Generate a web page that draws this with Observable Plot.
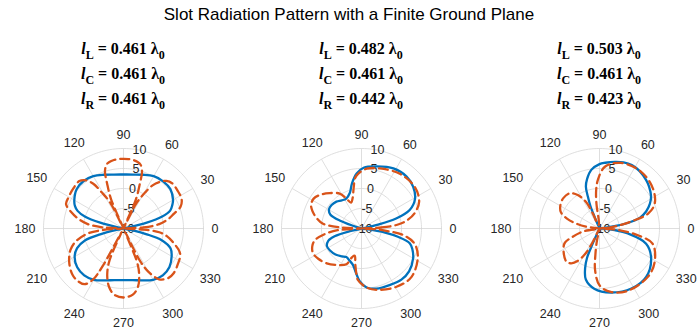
<!DOCTYPE html>
<html><head><meta charset="utf-8">
<script src="https://cdn.jsdelivr.net/npm/d3@7"></script>
<script src="https://cdn.jsdelivr.net/npm/@observablehq/plot@0.6"></script>
<style>
body{margin:0;background:#fff;}
#wrap{position:relative;width:698px;height:330px;overflow:hidden;background:#fff;}
#title{position:absolute;left:0;top:5px;width:698px;text-align:center;font:17px "Liberation Sans",Arial,sans-serif;line-height:20px;color:#000;}
.lab{position:absolute;top:37px;width:180px;text-align:center;font:bold 16px "Liberation Serif","Times New Roman",serif;line-height:24px;color:#000;white-space:nowrap;}
.lab .s{position:relative;top:5px;font-size:12px;}
.plot{position:absolute;top:120px;}
</style></head><body>
<div id="wrap"><div id="title"></div></div>
<script>
// ---------- chart data ----------
const chartTitle = "Slot Radiation Pattern with a Finite Ground Plane";
const lenL = ["0.461", "0.482", "0.503"];
const lenC = ["0.461", "0.461", "0.461"];
const lenR = ["0.461", "0.442", "0.423"];
const thetaTicks = [0, 30, 60, 90, 120, 150, 180, 210, 240, 270, 300, 330];
const rTicks = [-10, -5, 0, 5, 10];
const rLabelAngle = 80;

// panel 1 (solid = blue, dashed = orange), angle in degrees, value in dB
const p1SolidDeg = [0,12,14,17,21,26,30,40,50,60,70,80,90,100,110,120,130,140,150,155,159,163,166,168,180,192,194,197,203,210,220,230,240,250,260,270,280,290,300,310,320,330,337,343,346,348];
const p1SolidDb  = [-10,-9,-4,0,2.5,3.6,4.3,5.3,5.4,5.1,4.3,3.7,3.5,3.7,4.3,5.1,5.5,5.3,4.2,3.4,2.3,0,-4,-9,-10,-9,-4,0,2.6,4.1,5.1,5.3,4.8,3.8,3.1,2.9,3.1,3.8,4.8,5.3,5.0,3.9,2.8,0,-4,-9];
const p1DashDeg = [0,3,7,12,16,21,27,35,43,48,52,56,59,63,65,67,70,72,75,78,82,86,90,94,98,102,105,108,110,113,115,117,121,124,128,133,143,150,157,163,168,173,177,180,184,188,195,202,212,222,229,235,239,241,243,245,247,251,256,262,270,278,284,289,292,295,297,300,305,312,318,326,336,344,350,354,357];
const p1DashDb  = [-10,-5,-1,1.5,3,5.3,6.3,6.5,6.6,6,4.8,3,0.5,-3,-10,-2,2,5,6.5,7,7.3,7.4,7.4,7.4,7.3,7,6.5,5,2,-2,-10,-3,0.5,3.5,5.3,6.2,6,5.8,5.6,3.5,1.5,-1,-5,-10,-5,-1,2.3,4.3,6,7.2,7.4,7,5,1,-9,-4,-0.5,2.5,5,6.7,7.25,6.7,5,2,-1,-9,-1,2.5,5.5,6.7,6.8,6.3,5.5,3,1,-1,-5];

// panel 2
const p2SolidDeg = [0,10,13,16,21,29,39,49,62,76,88,95,102,108,117,125,133,142,150,156,160,164,180,193,196,200,207,215,225,235,242,250,257,263,268,275,284,297,308,318,330,338,343,347,350,353];
const p2SolidDb  = [-10,-9,-6,-1,2.9,5.3,6.6,7.2,7,6,5.2,3.8,1.5,-0.6,-1.6,-1.4,-0.8,-0.5,-0.6,-1.5,-4.5,-9,-10,-7,-3,-1.2,-0.3,-0.4,-0.8,-1.5,-1.9,-1.4,-0.6,1.2,3.2,4.8,5.5,5.8,6.2,6.0,4.9,3.7,2.6,-0.5,-4,-9];
const p2DashDeg = [0,3,6,10,16,25,38,55,73,85,93,97,101,106,112,117,122,132,140,148,155,160,167,173,177,180,184,189,194,200,207,215,225,237,247,252,256,260,263,266,275,284,301,316,333,344,351,354,357];
const p2DashDb  = [-10,-5,-1,1.5,3.8,5.9,6.9,6.7,5.7,5,3.8,2.8,0.3,-2,-3,-1.5,0.3,1.9,3.2,4.1,3.9,3.1,1.5,-0.3,-5,-10,-4,-0.5,2,3.1,3.6,3.2,2.3,0.9,-0.3,-2.5,-3,-1,1,2.9,4.8,5.8,7,7.4,5.8,3.8,0.6,-3,-6];

// panel 3
const p3SolidDeg = [0,6,9,11,15,20,26,32,40,46,55,63,70,77,85,90,98,104,108,110,112,113.5,180,245,246,247,250,255,265,280,298,314,330,342,350,354,357];
const p3SolidDb  = [-10,-9,-6.2,-2.8,0.5,2.4,4,5.2,6.2,6.8,7.5,7.8,7.6,7.1,6.5,6.1,4.8,2.8,1,-1.5,-4,-9,-10,-9,-5,-2,0.5,3.2,5.1,6.25,7,6.8,4.9,2.25,-2.8,-6.2,-9];
const p3DashDeg = [0,5,9,13,17,24,37,54,72,85,92,95,97,99,110,114,117,123,130,140,149,157,163,168,173,180,190,197,203,215,225,231,236,241,244,250,258,261,264,270,280,294,315,329,344,350,354,357];
const p3DashDb  = [-10,-8,-5,-1.4,2.7,5.1,6.7,7.6,7.25,5.5,2.1,-0.4,-3.7,-9,-9,-6,-2.5,0,1.5,1.8,1.4,0.5,-1.5,-4,-7,-10,-6,-3,-0.5,0.9,1.7,1.2,-0.2,-3,-7,-10,-7,-3.5,0.5,4.2,6.1,7.1,7.1,6.1,3.8,-0.25,-4,-7];

const panels = [
  {solidDeg: p1SolidDeg, solidDb: p1SolidDb, dashDeg: p1DashDeg, dashDb: p1DashDb},
  {solidDeg: p2SolidDeg, solidDb: p2SolidDb, dashDeg: p2DashDeg, dashDb: p2DashDb},
  {solidDeg: p3SolidDeg, solidDb: p3SolidDb, dashDeg: p3DashDeg, dashDb: p3DashDb}
];

// ---------- drawing ----------
const rMin = rTicks[0], rMax = rTicks[rTicks.length - 1];
const rad = a => a * Math.PI / 180;
const R = v => Math.max(0, v - rMin);
const px = (a, v) => R(v) * Math.cos(rad(a));
const py = (a, v) => R(v) * Math.sin(rad(a));
const gridColor = "#d6d6d6";
const textColor = "#262626";
const font = "'Liberation Sans', Arial, sans-serif";

function polarPlot(p) {
  const solid = p.solidDeg.map((a, i) => ({a, v: p.solidDb[i]}));
  const dash = p.dashDeg.map((a, i) => ({a, v: p.dashDb[i]}));
  const circles = rTicks.filter(t => t > rMin).flatMap(t => d3.range(0, 361, 2).map(a => ({t, a})));
  // label radius grows with text extent so labels sit just outside the outer ring
  const labR = a => (88 + Math.abs(Math.cos(rad(a))) * String(a).length * 3.5 + Math.abs(Math.sin(rad(a))) * 6) / 4;
  return Plot.plot({
    width: 232, height: 210, margin: 0,
    x: {domain: [-29, 29], axis: null},
    y: {domain: [-25.5, 27], axis: null},
    style: {background: "transparent", fontFamily: font, overflow: "visible"},
    marks: [
      Plot.line(circles, {x: d => px(d.a, d.t), y: d => py(d.a, d.t), z: "t", stroke: gridColor, strokeWidth: 0.8}),
      Plot.link(thetaTicks, {x1: () => 0, y1: () => 0, x2: a => px(a, rMax), y2: a => py(a, rMax), stroke: gridColor, strokeWidth: 0.8}),
      Plot.text(thetaTicks, {x: a => labR(a) * Math.cos(rad(a)), y: a => labR(a) * Math.sin(rad(a)), text: a => String(a), fontSize: 12.5, fill: textColor}),
      Plot.text(rTicks, {x: t => px(rLabelAngle, t) + 0.5, y: t => py(rLabelAngle, t), text: t => String(t), fontSize: 12.5, fill: textColor}),
      Plot.line(solid, {x: d => px(d.a, d.v), y: d => py(d.a, d.v), curve: "catmull-rom-closed", stroke: "#0072BD", strokeWidth: 2.3}),
      Plot.line(dash, {x: d => px(d.a, d.v), y: d => py(d.a, d.v), curve: "catmull-rom-closed", stroke: "#D95319", strokeWidth: 2.3, strokeDasharray: "9,5"})
    ]
  });
}

const wrap = document.getElementById("wrap");
document.getElementById("title").textContent = chartTitle;
const centers = [123, 361, 599];
panels.forEach((p, i) => {
  const lab = document.createElement("div");
  lab.className = "lab";
  lab.style.left = (centers[i] - 90) + "px";
  lab.innerHTML =
    `<i>l</i><span class="s">L</span> = ${lenL[i]} λ<span class="s">0</span><br>` +
    `<i>l</i><span class="s">C</span> = ${lenC[i]} λ<span class="s">0</span><br>` +
    `<i>l</i><span class="s">R</span> = ${lenR[i]} λ<span class="s">0</span>`;
  wrap.appendChild(lab);
  const svg = polarPlot(p);
  svg.classList.add("plot");
  svg.style.left = (centers[i] - 116) + "px";
  wrap.appendChild(svg);
});
</script>
</body></html>
